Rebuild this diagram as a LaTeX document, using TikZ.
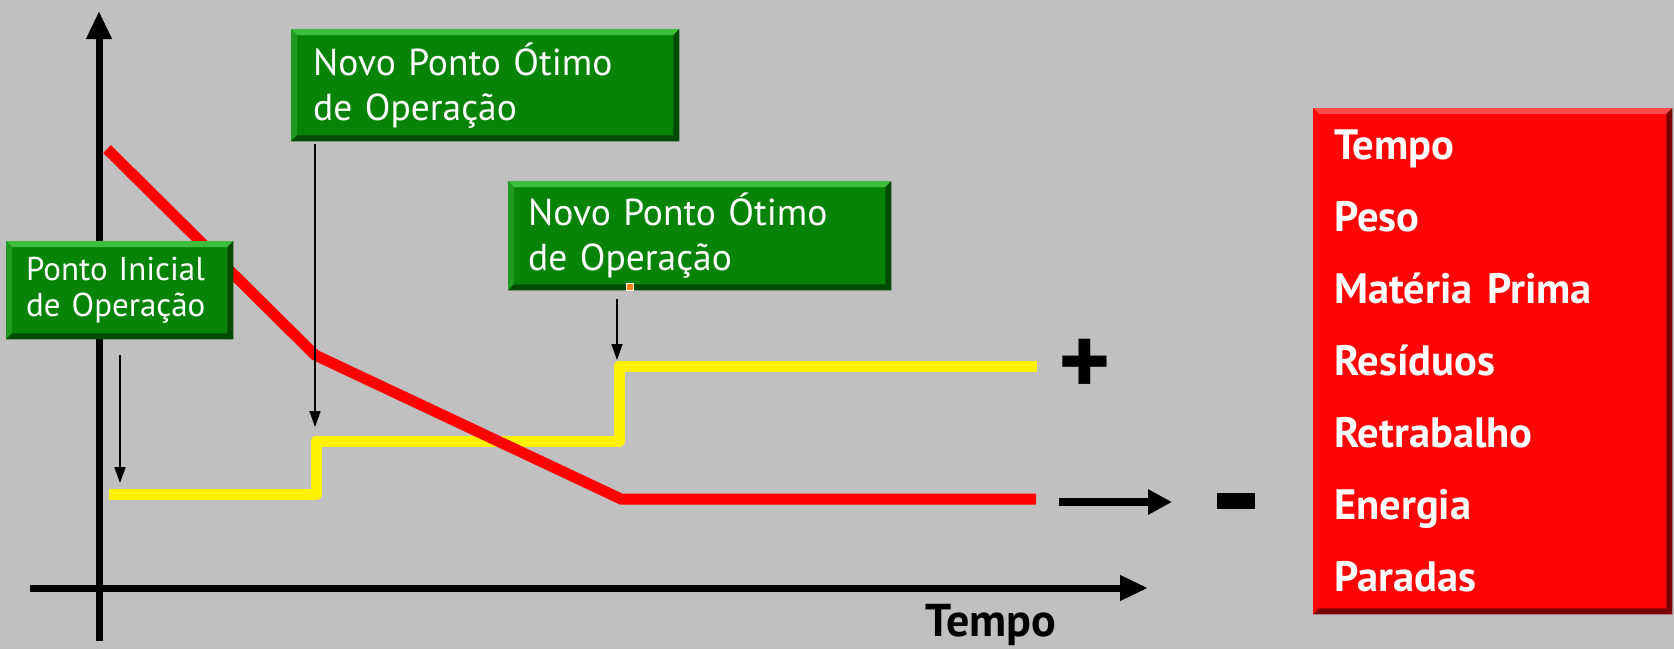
\documentclass[tikz,border=0pt]{standalone}
\usepackage{fontspec}
\setmainfont{PT Sans}
\usepackage{tikz}
\usetikzlibrary{arrows.meta,positioning,calc}

\definecolor{fundo}{HTML}{C0C0C0}
\definecolor{verde}{HTML}{078407}
\definecolor{verdeclaro}{HTML}{3DBE3D}
\definecolor{verdemeio}{HTML}{1E9A1E}
\definecolor{verdeescuro}{HTML}{034B03}
\definecolor{vermelho}{HTML}{FF0606}
\definecolor{vermelhoclaro}{HTML}{FF4A4A}
\definecolor{vermelhoescuro}{HTML}{7A0000}

% bevel round a box node: #1 node, #2 light, #3 side, #4 dark
\newcommand\chanfro[4]{%
  \fill[#2] (#1.north west) -- (#1.north east) -- ([xshift=-6pt,yshift=-6pt]#1.north east) -- ([xshift=6pt,yshift=-6pt]#1.north west) -- cycle;
  \fill[#3] (#1.north west) -- (#1.south west) -- ([xshift=6pt,yshift=6pt]#1.south west) -- ([xshift=6pt,yshift=-6pt]#1.north west) -- cycle;
  \fill[#4] (#1.north east) -- (#1.south east) -- ([xshift=-6pt,yshift=6pt]#1.south east) -- ([xshift=-6pt,yshift=-6pt]#1.north east) -- cycle;
  \fill[#4] (#1.south west) -- (#1.south east) -- ([xshift=-6pt,yshift=6pt]#1.south east) -- ([xshift=6pt,yshift=6pt]#1.south west) -- cycle;
}

\begin{document}
\begin{tikzpicture}[x=1pt,y=-1pt]
\tikzset{
     eixo/.style={line width=7pt, -{Triangle[width=24pt,length=28pt]}},
     seta/.style={line width=1.6pt, -{Triangle[width=11pt,length=16pt]}},
     linhavermelha/.style={red, line width=11pt, line join=miter},
     linhaamarela/.style={yellow, line width=11pt, line join=round},
     caixaverde/.style={fill=verde, text=white, align=left, anchor=north west,
        inner ysep=0pt, font=\fontsize{37.5}{45}\selectfont},
     caixavermelha/.style={fill=vermelho, text=white, align=left, anchor=north west,
        inner xsep=21pt, inner ysep=0pt, font=\fontsize{42.5}{72}\selectfont\bfseries}}

\fill[fundo] (0,0) rectangle (1674,649);
\useasboundingbox (0,0) rectangle (1674,649);

% The axes
\coordinate (ybase) at (99,641);
\coordinate (ytopo) at (99,11);
\coordinate (xbase) at (30,588);
\coordinate (xfim) at (1148,588);
\draw[eixo] (ybase) -- (ytopo);
\draw[eixo] (xbase) -- (xfim);
\node (tempo) at (991,625) {\fontsize{46}{46}\selectfont\bfseries Tempo};

% The curves
\coordinate (y0) at (109,494);
\coordinate (y1) at (316,494);
\coordinate (y2) at (316,441);
\coordinate (y3) at (619,441);
\coordinate (y4) at (619,366);
\coordinate (y5) at (1037,366);
\draw[linhaamarela] (y0) -- (y1) -- (y2) -- (y3) -- (y4) -- (y5);

\coordinate (r0) at (107,149);
\coordinate (r1) at (315,355);
\coordinate (r2) at (621,499);
\coordinate (r3) at (1036,499);
\draw[linhavermelha] (r0) -- (r1) -- (r2) -- (r3);

% The boxes
\node (inicial) at (6,241) [caixaverde, inner xsep=20pt, minimum width=227pt, minimum height=98pt,
   text width=187pt, font=\fontsize{33}{36}\selectfont] {Ponto Inicial\\de Operação};
\node (novoA) at (291,29) [caixaverde, inner xsep=22pt, minimum width=388pt, minimum height=112pt,
   text width=344pt] {Novo Ponto Ótimo\\de Operação};
\node (novoB) at (508,181) [caixaverde, inner xsep=20pt, minimum width=383pt, minimum height=109pt,
   text width=343pt] {Novo Ponto Ótimo\\de Operação};
\chanfro{inicial}{verdeclaro}{verdemeio}{verdeescuro}
\chanfro{novoA}{verdeclaro}{verdemeio}{verdeescuro}
\chanfro{novoB}{verdeclaro}{verdemeio}{verdeescuro}

\node (fatores) at (1313,108) [caixavermelha, minimum width=359pt, minimum height=506pt,
   text width=317pt] {Tempo\\Peso\\Matéria Prima\\Resíduos\\Retrabalho\\Energia\\Paradas};
\chanfro{fatores}{vermelhoclaro}{vermelho}{vermelhoescuro}

\node (marca) at (630,287) [fill=orange, draw=white, line width=1.2pt, minimum size=7pt, inner sep=0pt] {};

% The arrows
\coordinate (pa) at (120,483);
\coordinate (pb) at (315,427);
\coordinate (pc) at (617,360);
\draw[seta] ($(inicial.south -| pa)+(0,16)$) -- (pa);
\draw[seta] ($(novoA.south -| pb)+(0,3)$) -- (pb);
\draw[seta] ($(novoB.south -| pc)+(0,9)$) -- (pc);

% The signs
\node (mais) at (1085,367) [inner sep=0pt] {\fontsize{100}{100}\selectfont\bfseries +};
\coordinate (sa) at (1059,502);
\coordinate (sb) at (1172,502);
\draw[line width=8pt, -{Triangle[width=24pt,length=24pt]}] (sa) -- (sb);
\node (menos) at (1236,501) [fill=black, minimum width=38pt, minimum height=16pt, inner sep=0pt] {};
\end{tikzpicture}
\end{document}
